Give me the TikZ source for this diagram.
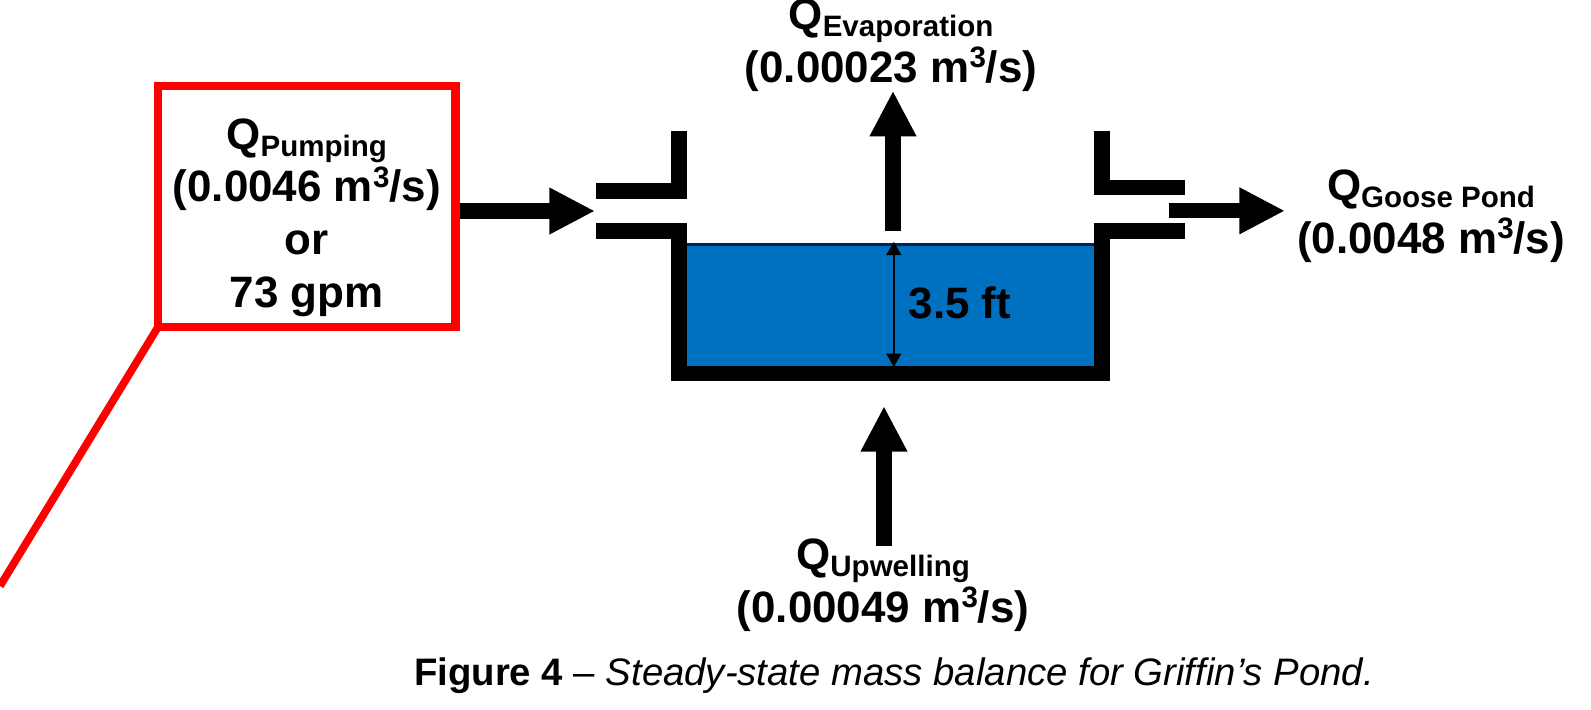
\documentclass[tikz,border=0pt]{standalone}
\usepackage{fontspec}
\usepackage{xcolor}
\setmainfont{Liberation Sans}
\usetikzlibrary{arrows.meta,positioning}
\definecolor{pondblue}{HTML}{0070C0}
\definecolor{pondline}{HTML}{002060}
\newcommand{\flowq}[1]{Q\raisebox{-0.32ex}{\fontsize{8.4}{8.4}\selectfont #1}}
\newcommand{\cubed}{m\raisebox{0.62ex}{\fontsize{8.4}{8.4}\selectfont 3}}

\begin{document}
\begin{tikzpicture}[
      label/.style={align=center,font=\fontsize{12.5}{15}\selectfont\bfseries},
      wall/.style={line width=4.4pt},
      flow/.style={line width=4.3pt,-{Triangle[length=13pt,width=12.4pt]}},
      depth/.style={line width=0.5pt,{Triangle[length=3.8pt,width=4.2pt]}-{Triangle[length=3.8pt,width=4.2pt]}},
      redbox/.style={draw=red,line width=2.3pt,minimum width=2.975cm,minimum height=2.41cm,inner sep=0pt}
]
\useasboundingbox (0,0) rectangle (15.91,-7.09);
\node[redbox,label] (pumping) at (3.0675,-2.065) {\rule{0pt}{15pt}\flowq{Pumping}\\(0.0046 \cubed/s)\\or\\73 gpm};
\node[label] (evap) at (8.91,-0.45) {\flowq{Evaporation}\\(0.00023 \cubed/s)};
\node[label] (goose) at (14.31,-2.16) {\flowq{Goose Pond}\\(0.0048 \cubed/s)};
\node[label] (upwell) at (8.83,-5.85) {\flowq{Upwelling}\\(0.00049 \cubed/s)};
% pond
\fill[pondblue] (6.80,-2.44) rectangle (11.02,-3.70);
\draw[pondline,line width=0.8pt] (6.87,-2.445) -- (10.945,-2.445);
\draw[wall] (6.79,-1.307) -- (6.79,-1.908) -- (5.96,-1.908);
\draw[wall] (5.96,-2.31) -- (6.79,-2.31) -- (6.79,-3.735) -- (11.02,-3.735) -- (11.02,-2.31) -- (11.854,-2.31);
\draw[wall] (11.02,-1.307) -- (11.02,-1.873) -- (11.854,-1.873);
\node[label] (height) at (9.60,-3.03) {3.5 ft};
\coordinate (surface) at (8.938,-2.417);
\coordinate (floor) at (8.938,-3.67);
\draw[depth] (surface) -- (floor);
% flows
\coordinate (inlet) at (5.95,-2.11);
\coordinate (outstart) at (11.686,-2.108);
\coordinate (outend) at (12.85,-2.108);
\coordinate (evapstart) at (8.93,-2.31);
\coordinate (evapend) at (8.93,-0.907);
\coordinate (upstart) at (8.84,-5.46);
\coordinate (upend) at (8.84,-4.06);
\draw[flow] (pumping.east |- inlet) -- (inlet);
\draw[flow] (outstart) -- (outend);
\draw[flow] (evapstart) -- (evapend);
\draw[flow] (upstart) -- (upend);
\coordinate (corner) at (1.58,-3.27);
\coordinate (leader) at (0,-5.86);
\draw[red,line width=2.2pt] (corner) -- (leader);
\node[font=\fontsize{10.9}{13}\selectfont] (caption) at (8.94,-6.76) {\textbf{Figure 4} – \textit{Steady-state mass balance for Griffin’s Pond.}};
\end{tikzpicture}
\end{document}
